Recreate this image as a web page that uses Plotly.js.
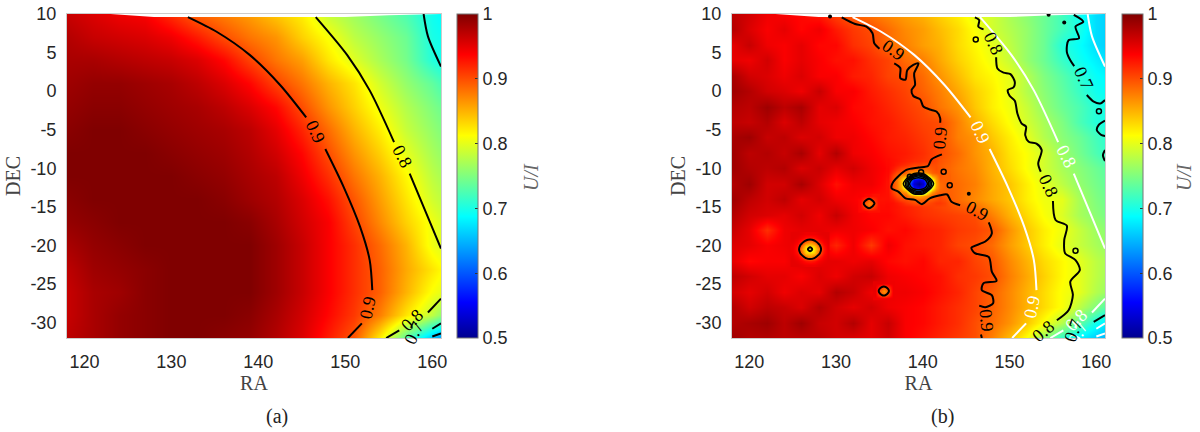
<!DOCTYPE html>
<html>
<head>
<meta charset="utf-8">
<script src="https://cdn.plot.ly/plotly-3.0.1.min.js"></script>
<style>html,body{margin:0;background:#fff}</style>
</head>
<body>
<div id="chart" style="width:1200px;height:432px"></div>
<script>
const raA = [118,121,124,127,130,133,136,139,142,145,148,151,154,157,160,163]
const decA = [10,7,4,1,-2,-5,-8,-11,-14,-17,-20,-23,-26,-29,-32]
const zA = [
  [.965,.955,.945,.94,.915,.89,.875,.86,.84,.82,.785,.765,.745,.725,.695,.675],
  [.975,.965,.96,.955,.945,.925,.90,.88,.865,.835,.81,.78,.76,.74,.70,.685],
  [.98,.98,.975,.97,.965,.955,.935,.905,.88,.86,.825,.797,.77,.745,.705,.68],
  [.985,.99,.99,.985,.98,.97,.955,.935,.905,.88,.85,.825,.79,.76,.735,.70],
  [.99,.995,.995,.99,.985,.98,.97,.955,.935,.90,.865,.835,.805,.775,.75,.725],
  [.995,1,1,.995,.99,.985,.98,.97,.95,.92,.885,.85,.82,.785,.76,.735],
  [1,1,1,1,.995,.99,.985,.975,.96,.935,.90,.865,.835,.80,.77,.745],
  [1,1,1,1,1,.995,.99,.98,.97,.945,.915,.88,.85,.815,.78,.755],
  [.995,1,1,1,1,1,.995,.985,.975,.955,.93,.895,.86,.825,.79,.765],
  [.99,.995,1,1,1,1,1,.995,.98,.96,.94,.905,.87,.835,.805,.775],
  [.98,.99,.995,1,1,1,1,1,.985,.965,.94,.915,.885,.85,.805,.78],
  [.97,.985,.99,.995,1,1,1,1,.985,.965,.94,.915,.89,.855,.825,.795],
  [.965,.98,.985,.995,1,1,1,1,.985,.965,.94,.915,.89,.85,.81,.785],
  [.965,.98,.99,.995,1,1,1,.995,.98,.96,.935,.91,.875,.825,.78,.72],
  [.97,.98,.99,.995,1,1,.995,.99,.975,.955,.925,.895,.82,.73,.655,.60]
]

const raB = [118,120,122,124,126,128,130,132,134,136,138,140,142,144,146,148,150,152,154,156,158,160,162]
const decB = [10,8,6,4,2,0,-2,-4,-6,-8,-10,-12,-14,-16,-18,-20,-22,-24,-26,-28,-30,-32]
const zB = [
  [.97,.96,.945,.94,.935,.925,.905,.89,.88,.87,.86,.85,.835,.82,.80,.79,.77,.755,.74,.72,.695,.67,.66],
  [.975,.955,.94,.95,.935,.945,.925,.91,.90,.885,.87,.86,.845,.83,.81,.79,.775,.76,.74,.72,.70,.67,.66],
  [.95,.965,.945,.94,.95,.935,.935,.915,.905,.885,.875,.86,.85,.83,.815,.80,.78,.76,.74,.705,.69,.67,.66],
  [.95,.945,.96,.94,.95,.94,.93,.93,.915,.905,.885,.875,.855,.835,.82,.805,.785,.76,.74,.715,.695,.68,.665],
  [.98,.96,.955,.945,.955,.94,.94,.925,.92,.905,.90,.885,.865,.845,.825,.815,.80,.775,.75,.73,.71,.69,.68],
  [.985,.975,.96,.955,.945,.965,.94,.94,.925,.915,.905,.89,.875,.855,.835,.82,.80,.775,.755,.735,.715,.695,.685],
  [.975,.97,.985,.97,.98,.95,.955,.935,.93,.92,.91,.90,.88,.865,.84,.82,.805,.785,.76,.74,.725,.705,.695],
  [.97,.965,.975,.955,.97,.95,.945,.94,.93,.925,.915,.905,.90,.875,.85,.83,.81,.79,.77,.75,.725,.705,.695],
  [.98,.985,.965,.97,.955,.96,.945,.945,.935,.925,.92,.91,.90,.875,.865,.84,.82,.80,.775,.755,.74,.72,.70],
  [.985,.97,.975,.965,.98,.95,.975,.945,.94,.93,.925,.915,.90,.885,.865,.85,.825,.81,.79,.765,.745,.725,.705],
  [.985,.975,.97,.975,.955,.965,.95,.96,.945,.935,.92,.91,.895,.88,.87,.85,.83,.81,.79,.77,.755,.74,.725],
  [.975,.985,.96,.96,.98,.955,.93,.945,.945,.93,.92,.91,.895,.885,.875,.855,.84,.82,.80,.78,.76,.745,.73],
  [.985,.97,.96,.97,.95,.96,.945,.94,.93,.93,.92,.91,.90,.885,.87,.855,.84,.82,.805,.80,.77,.75,.735],
  [.975,.96,.955,.95,.96,.945,.965,.945,.935,.935,.925,.915,.91,.905,.90,.875,.85,.83,.81,.795,.77,.755,.74],
  [.965,.95,.915,.945,.95,.95,.945,.945,.94,.93,.935,.925,.92,.91,.905,.895,.865,.84,.82,.805,.785,.765,.75],
  [.955,.95,.94,.945,.95,.945,.92,.945,.91,.945,.93,.925,.92,.905,.90,.885,.86,.84,.82,.80,.785,.77,.755],
  [.95,.935,.94,.94,.955,.95,.95,.945,.95,.935,.93,.935,.92,.92,.905,.895,.87,.85,.83,.815,.80,.78,.765],
  [.97,.96,.95,.95,.94,.955,.945,.96,.965,.945,.94,.935,.93,.915,.91,.90,.875,.855,.835,.815,.80,.78,.76],
  [.96,.95,.96,.945,.955,.95,.975,.965,.945,.945,.945,.94,.93,.92,.905,.89,.87,.85,.83,.81,.80,.775,.755],
  [.975,.96,.97,.965,.955,.975,.96,.95,.96,.945,.94,.935,.925,.915,.905,.89,.87,.85,.83,.81,.78,.75,.71],
  [.975,.98,.985,.97,.985,.965,.96,.975,.95,.965,.94,.935,.925,.915,.90,.885,.865,.84,.81,.775,.735,.695,.66],
  [.985,.975,.975,.97,.97,.97,.96,.955,.95,.96,.94,.93,.92,.91,.90,.875,.845,.81,.76,.71,.68,.66,.64]
]

// point sources in (b), finer grids
const raSrc = [136,136.5,137,137.5,138,138.5,139,139.5,140,140.5,141,141.5,142,142.5,143]
const decSrc = [-9,-9.5,-10,-10.5,-11,-11.5,-12,-12.5,-13,-13.5,-14,-14.5,-15]
const zSrc = [
  [.933,.93,.928,.925,.922,.92,.917,.915,.912,.91,.907,.903,.897,.893,.89],
  [.934,.93,.925,.92,.915,.91,.905,.905,.90,.90,.90,.90,.895,.89,.888],
  [.935,.925,.915,.905,.90,.895,.89,.89,.89,.89,.895,.90,.895,.89,.887],
  [.934,.915,.90,.895,.89,.87,.86,.85,.86,.87,.89,.895,.895,.89,.888],
  [.933,.905,.89,.87,.86,.80,.68,.65,.68,.80,.86,.875,.895,.89,.89],
  [.931,.90,.88,.85,.80,.63,.555,.54,.555,.63,.80,.86,.89,.89,.89],
  [.93,.90,.88,.85,.75,.59,.53,.50,.53,.59,.75,.855,.885,.89,.89],
  [.93,.90,.88,.855,.80,.63,.555,.54,.555,.63,.80,.86,.885,.89,.89],
  [.93,.905,.89,.875,.86,.80,.68,.65,.68,.80,.86,.88,.89,.89,.89],
  [.93,.915,.90,.895,.89,.87,.86,.85,.86,.87,.89,.895,.90,.895,.89],
  [.93,.925,.915,.905,.90,.895,.89,.89,.89,.89,.895,.90,.905,.90,.892],
  [.932,.93,.925,.92,.91,.905,.90,.895,.895,.90,.905,.91,.91,.905,.896],
  [.933,.93,.928,.925,.922,.92,.917,.915,.912,.91,.908,.906,.905,.903,.90]
]
const raS127 = [125,125.5,126,126.5,127,127.5,128,128.5,129]
const decS127 = [-18.5,-19,-19.5,-20,-20.5,-21,-21.5,-22,-22.5]
const zS127 = [
  [.95,.95,.948,.945,.945,.945,.948,.95,.95],
  [.95,.947,.94,.93,.925,.93,.94,.947,.95],
  [.948,.94,.92,.888,.87,.888,.92,.94,.948],
  [.945,.93,.888,.84,.83,.84,.888,.93,.945],
  [.945,.925,.87,.83,.77,.83,.87,.925,.945],
  [.945,.93,.888,.84,.83,.84,.888,.93,.945],
  [.948,.94,.92,.888,.87,.888,.92,.94,.948],
  [.95,.947,.94,.93,.925,.93,.94,.947,.95],
  [.95,.95,.948,.945,.945,.945,.948,.95,.95]
]
const raS134 = [132.8,133.3,133.8,134.3,134.8]
const decS134 = [-13.55,-14.05,-14.55,-15.05,-15.55]
const zS134 = [
  [.94,.935,.935,.93,.93],
  [.935,.91,.89,.91,.93],
  [.935,.89,.87,.89,.93],
  [.935,.91,.89,.91,.93],
  [.935,.935,.93,.93,.93]
]
const raS135 = [134.5,135,135.5,136,136.5]
const decS135 = [-24.9,-25.4,-25.9,-26.4,-26.9]
const zS135 = [
  [.95,.95,.948,.945,.945],
  [.95,.91,.89,.91,.945],
  [.948,.89,.865,.89,.945],
  [.948,.91,.89,.91,.945],
  [.945,.945,.945,.945,.945]
]

// smooth contours of (a), also drawn white on (b)
const modelRa = [131.9,135.2,139,142.5,145.5,null,147.7,149.8,151.7,152.8,153.1,null,151.9,150.3,null,
  146.6,150.2,152.8,155.6,null,157.4,159.3,161,null,
  159,159.5,161,null,
  161,159.5,null,156.2,154.7,null,
  161,160,null,161,160]
const modelDec = [9.6,7.7,4.7,.8,-3.4,null,-7.5,-12.4,-17.6,-21.9,-25.8,null,-30.1,-32,null,
  9.6,4.7,.1,-6.6,null,-10.7,-15.8,-20.4,null,
  10,7.1,3.2,null,
  -26.9,-28.7,null,-31,-32,null,
  -30.1,-30.8,null,-31.4,-31.8]
const modelLabels = ['0.9','0.8','0.9','0.8','0.7']
const modelLabelRa = [146.6,156.6,152.6,157.7,157.9]
const modelLabelDec = [-5.3,-8.5,-28,-29.7,-31.4]
const modelLabelAngle = [65,62,-78,-45,-65]

// wiggly contours of (b)
const c09Ra = [130.65,132.2,133.5,134.2,134.4,135,null,
  136.7,137.4,137.4,138,138.2,138.9,139.5,139,139.1,138.7,138.9,139.7,140.06,141,141.6,142,142,null,
  142.2,141,140.6,139.5,138.1,136.6,136.4,137.2,138,139.1,139.9,140.8,142,142.8,143.3,144.3,null,
  147.6,147.95,147.2,145.6,146,147.6,147.95,148.5,147,146.8,147.95,148.1,147.2,146.5,null,
  146.7,146.8]
const c09Dec = [9.57,8.7,8.36,7.5,6.2,5.5,null,
  3.6,3,1.7,1.5,2.7,3.4,3.6,2.3,.8,.15,-.63,-1.07,-2,-2.45,-2.67,-3.5,-4.1,null,
  -8.2,-8.85,-9.7,-9.9,-10.2,-11.75,-12.6,-13.05,-13.9,-14.1,-14.65,-13.9,-13.5,-13.4,-14.35,-14.8,null,
  -17,-18.45,-19.5,-20.3,-21,-21.5,-23.4,-24.6,-24.9,-25.8,-26.45,-27.5,-28,-27.8,null,
  -31.55,-32]
const c08Ra = [146,146.5,146.4,147,null,
  148.45,148.6,149.3,150.1,150.6,150.45,149.8,150,150.6,150.9,151.4,151.9,151.8,152.2,153.1,153.7,153.3,153.6,null,
  155,155.3,156.6,156.3,156.4,157.6,158.1,157,157.3,156.8,155.45]
const c08Dec = [9.57,9.2,8.36,8,null,
  4.4,2.95,2.4,2.2,1.2,.5,.15,-.6,-1.24,-2.9,-4.2,-4.6,-5.7,-6.55,-6.8,-7.64,-9.4,-10.45,null,
  -14.25,-16.7,-17.45,-19.3,-21,-21.9,-23.2,-24.7,-26.4,-28.4,-29.7]
const c07Ra = [157.4,158.5,157.6,158,156.8,156.6,157,157.45,null,
  158.9,159.7,160.45,161,null,
  161,160.26,160.06,160.6,161,null,
  161,160.76,161,null,
  161,159.7]
const c07Dec = [9.9,9,8.36,6.85,6.6,5.1,4,3.25,null,
  -.5,-1.37,-1.6,-1.15,null,
  -3.83,-4.4,-5.05,-5.7,-5.8,null,
  -7.64,-8.3,-9.07,null,
  -29.04,-29.9]
const ringRa = [142.4,143.1,157.6,160.3,146.1,138.5,139.8]
const ringDec = [-10.45,-12.2,-20.7,-2.6,6.7,-11.1,-10.5]
const dotRa = [145.3,129.3,156.3,154.5]
const dotDec = [-13.3,9.66,8.9,9.9]
const measLabels = ['0.9','0.9','0.9','0.9','0.8','0.8','0.8','0.7','0.7']
const measLabelRa = [136.6,142,146.3,147.3,148.1,154.5,153.9,158.5,157.4]
const measLabelDec = [5.3,-6.1,-15.5,-29.7,6.2,-12.3,-31.1,1.65,-31]
const measLabelAngle = [35,-85,28,85,65,65,-40,65,-70]

// data edge is not quite flat at the top
const edgeRa = [118,123,128,140,150,155,161,161,118]
const edgeDec = [10,10,9.6,9.55,9.6,9.85,10,10.5,10.5]

const raTicks = [120,130,140,150,160]
const decTicks = [10,5,0,-5,-10,-15,-20,-25,-30]
const decTickText = ['10','5','0','-5','-10','-15','-20','-25','-30']
const barTicks = [.5,.6,.7,.8,.9,1]
const barTickText = ['0.5','0.6','0.7','0.8','0.9','1']

const jet = [[0,'#00008f'],[.11,'#0000ff'],[.375,'#00ffff'],[.625,'#ffff00'],[.875,'#ff0000'],[1,'#800000']]
const sans = 'Liberation Sans, Arial, sans-serif'
const serif = 'Liberation Serif, Times New Roman, serif'
const textColor = '#262626'

function colorbar(left) {
  return {
    x: left / 1200, xanchor: 'left', xpad: 0, ypad: 0,
    y: 1 - 14 / 432, yanchor: 'top', len: 324 / 432, thickness: 21,
    outlinecolor: '#777', outlinewidth: 1,
    tickvals: barTicks, ticktext: barTickText,
    ticks: 'inside', ticklen: 3, tickcolor: '#333', tickfont: { family: sans, size: 18, color: textColor }
  }
}

function heat(x, y, z, xa, ya, bar) {
  const t = { type: 'heatmap', x, y, z, xaxis: xa, yaxis: ya, zmin: .5, zmax: 1, colorscale: jet, zsmooth: 'best', hoverinfo: 'skip', showscale: !!bar }
  if (bar) { t.colorbar = bar }
  return t
}

function line(x, y, xa, ya, color) {
  return { type: 'scatter', mode: 'lines', x, y, xaxis: xa, yaxis: ya, hoverinfo: 'skip', showlegend: false,
    line: { color, width: 2, shape: 'spline', smoothing: .8 } }
}

function rings(x, y, z, start, end, size, width) {
  return { type: 'contour', x, y, z, xaxis: 'x2', yaxis: 'y2', showscale: false, hoverinfo: 'skip', autocontour: false,
    contours: { coloring: 'none', start, end, size, showlabels: false },
    line: { color: '#000', width, smoothing: 1 } }
}

function edge(xa, ya) {
  return { type: 'scatter', mode: 'lines', x: edgeRa, y: edgeDec, xaxis: xa, yaxis: ya, fill: 'toself', fillcolor: '#fff',
    line: { width: 0, color: '#fff' }, hoverinfo: 'skip', showlegend: false }
}

function labels(text, ra, dec, angle, xref, yref, color) {
  return text.map((t, i) => ({ text: t, x: ra[i], y: dec[i], xref, yref, textangle: angle[i], showarrow: false,
    font: { family: serif, size: 18, color } }))
}

function paperText(text, px, py, size, color, angle) {
  return { text, x: px / 1200, y: 1 - py / 432, xref: 'paper', yref: 'paper', xanchor: 'center', yanchor: 'middle',
    textangle: angle || 0, showarrow: false, font: { family: serif, size, color } }
}

const data = [
  heat(raA, decA, zA, 'x', 'y', colorbar(457)),
  edge('x', 'y'),
  line(modelRa, modelDec, 'x', 'y', '#000'),

  heat(raB, decB, zB, 'x2', 'y2', colorbar(1122)),
  heat(raSrc, decSrc, zSrc, 'x2', 'y2'),
  heat(raS127, decS127, zS127, 'x2', 'y2'),
  heat(raS134, decS134, zS134, 'x2', 'y2'),
  heat(raS135, decS135, zS135, 'x2', 'y2'),
  edge('x2', 'y2'),
  line(modelRa, modelDec, 'x2', 'y2', '#fff'),
  line(c09Ra, c09Dec, 'x2', 'y2', '#000'),
  line(c08Ra, c08Dec, 'x2', 'y2', '#000'),
  line(c07Ra, c07Dec, 'x2', 'y2', '#000'),
  rings(raSrc, decSrc, zSrc, .6, .8, .05, 1.5),
  rings(raS127, decS127, zS127, .8, .9, .1, 2),
  rings(raS134, decS134, zS134, .9, .9, .1, 2),
  rings(raS135, decS135, zS135, .9, .9, .1, 2),
  { type: 'scatter', mode: 'markers', x: ringRa, y: ringDec, xaxis: 'x2', yaxis: 'y2', hoverinfo: 'skip', showlegend: false,
    marker: { symbol: 'circle-open', size: 5, color: '#000', line: { width: 1.5, color: '#000' } } },
  { type: 'scatter', mode: 'markers', x: dotRa, y: dotDec, xaxis: 'x2', yaxis: 'y2', hoverinfo: 'skip', showlegend: false,
    marker: { size: 4, color: '#000' } }
]

function xAxis(left, right, anchor) {
  return { domain: [left / 1200, right / 1200], anchor, range: [118, 161], showgrid: false, zeroline: false,
    showline: true, mirror: true, linecolor: '#ccc', linewidth: 1, ticks: '',
    tickvals: raTicks, tickfont: { family: sans, size: 18, color: textColor }, ticklabelstandoff: 7,
    title: { text: 'RA', standoff: 3, font: { family: serif, size: 20, color: '#444' } } }
}

function yAxis(anchor) {
  return { domain: [1 - 338 / 432, 1 - 14 / 432], anchor, range: [-32, 10], showgrid: false, zeroline: false,
    showline: true, mirror: true, linecolor: '#ccc', linewidth: 1, ticks: '',
    tickvals: decTicks, ticktext: decTickText, tickfont: { family: sans, size: 18, color: textColor }, ticklabelstandoff: 6,
    title: { text: 'DEC', standoff: 4, font: { family: serif, size: 20, color: '#444' } } }
}

const layout = {
  width: 1200, height: 432, margin: { l: 0, r: 0, t: 0, b: 0 },
  paper_bgcolor: '#fff', plot_bgcolor: '#fff', showlegend: false, hovermode: false,
  xaxis: xAxis(67, 441, 'y'), yaxis: yAxis('x'),
  xaxis2: xAxis(732, 1105, 'y2'), yaxis2: yAxis('x2'),
  annotations: [
    ...labels(modelLabels, modelLabelRa, modelLabelDec, modelLabelAngle, 'x', 'y', '#000'),
    ...labels(modelLabels, modelLabelRa, modelLabelDec, modelLabelAngle, 'x2', 'y2', '#fff'),
    ...labels(measLabels, measLabelRa, measLabelDec, measLabelAngle, 'x2', 'y2', '#000'),
    paperText('<i>U/I</i>', 531, 177, 20, '#666', -90),
    paperText('<i>U/I</i>', 1184, 177, 20, '#666', -90),
    paperText('(a)', 277, 416, 20, '#222'),
    paperText('(b)', 942, 416, 20, '#222')
  ]
}

Plotly.newPlot('chart', data, layout, { displayModeBar: false, staticPlot: true })
</script>
</body>
</html>
